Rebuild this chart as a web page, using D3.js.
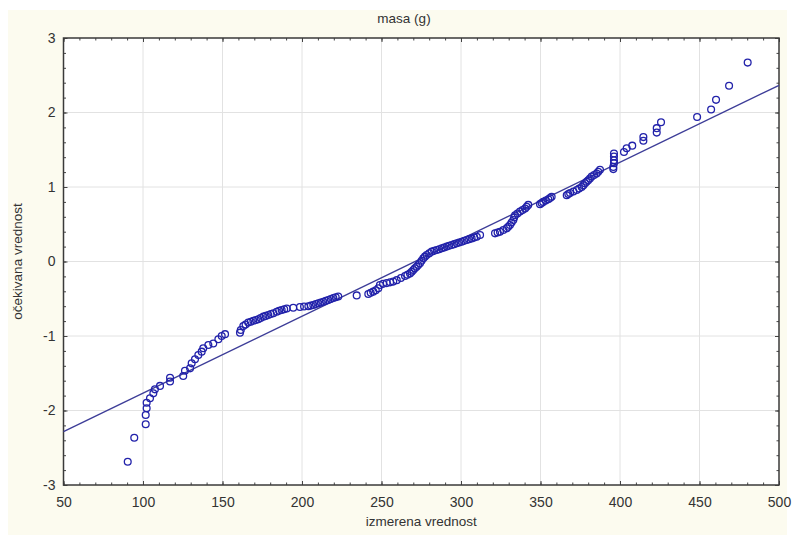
<!DOCTYPE html>
<html>
<head>
<meta charset="utf-8">
<script src="https://cdn.jsdelivr.net/npm/d3@7"></script>
<style>
  body { margin: 0; background: #fff; }
  text { font-family: "Liberation Sans", Arial, sans-serif; fill: #333; }
</style>
</head>
<body>
<svg width="793" height="535"></svg>
<script>
let masa = [90.4, 94.5, 101.7, 101.7, 102.3, 102.3, 104.4, 106.5, 107.5, 110.7,
    117, 117, 125.3, 126.4, 129.6, 130.6, 132.7, 134.8, 136.9, 137.9,
    141.1, 144.2, 147.4, 149.5, 151.6, 161, 161.5, 163.1, 164.5, 166.2,
    167.8, 169.4, 171, 172.5, 174, 175.7, 177.2, 178.8, 180.4, 182,
    184.1, 185.6, 187.2, 188.8, 190.4, 194.5, 198.7, 201.3, 204, 205.6,
    207.1, 208.7, 210.3, 211.8, 213.4, 215, 216.5, 218.1, 219.7, 221.2,
    222.8, 234.4, 241.7, 243.2, 244.8, 246.4, 248, 249, 251, 253.3,
    255.4, 257.4, 259.6, 262.2, 264.8, 266.3, 267.9, 269, 270, 271,
    272.1, 273.1, 274.2, 275.2, 276.3, 277.3, 278.4, 280, 281.6, 283.1,
    284.7, 286.3, 287.9, 289.4, 291, 292.5, 294.1, 295.7, 297.3, 298.8,
    300.4, 302, 303.6, 305.1, 306.7, 308.3, 309.9, 312, 321.4, 323,
    324.5, 326.6, 328.7, 329.7, 330.8, 331.8, 332.9, 333.4, 334, 335.5,
    337.1, 338.7, 340.3, 341.3, 342.3, 349.7, 350.7, 351.7, 353.3, 354.9,
    356, 357, 366.5, 367.5, 368.6, 370.7, 372.8, 374.3, 375.9, 377,
    378, 379, 380, 381.1, 382.2, 383.7, 385.3, 386.3, 387.4, 395.8,
    395.8, 396.2, 396.2, 396.2, 396.2, 402.5, 404.2, 407.7, 414.7, 414.7,
    423.1, 423.1, 425.8, 448.5, 457.3, 460.4, 468.6, 480.3];
let ocekivana = [-2.687, -2.365, -2.185, -2.06, -1.97, -1.895, -1.836, -1.77, -1.716, -1.67,
    -1.61, -1.56, -1.537, -1.466, -1.434, -1.367, -1.313, -1.255, -1.21, -1.165,
    -1.12, -1.1, -1.044, -1.0, -0.975, -0.955, -0.92, -0.866, -0.845, -0.82,
    -0.808, -0.795, -0.785, -0.776, -0.758, -0.74, -0.73, -0.718, -0.705, -0.695,
    -0.674, -0.662, -0.65, -0.64, -0.63, -0.62, -0.61, -0.605, -0.6, -0.592,
    -0.584, -0.572, -0.56, -0.55, -0.54, -0.528, -0.517, -0.503, -0.49, -0.48,
    -0.47, -0.455, -0.436, -0.42, -0.405, -0.385, -0.36, -0.315, -0.3, -0.29,
    -0.28, -0.27, -0.25, -0.222, -0.195, -0.178, -0.16, -0.137, -0.114, -0.092,
    -0.07, -0.047, -0.024, 0.01, 0.043, 0.065, 0.087, 0.11, 0.132, 0.143,
    0.154, 0.165, 0.177, 0.188, 0.2, 0.211, 0.222, 0.233, 0.244, 0.255,
    0.266, 0.277, 0.289, 0.3, 0.31, 0.321, 0.333, 0.356, 0.378, 0.389,
    0.4, 0.422, 0.445, 0.467, 0.49, 0.523, 0.557, 0.59, 0.62, 0.645,
    0.67, 0.69, 0.71, 0.735, 0.76, 0.77, 0.785, 0.8, 0.818, 0.835,
    0.852, 0.87, 0.89, 0.905, 0.92, 0.94, 0.96, 0.98, 1.0, 1.025,
    1.05, 1.07, 1.09, 1.115, 1.14, 1.16, 1.18, 1.205, 1.23, 1.24,
    1.27, 1.32, 1.36, 1.41, 1.45, 1.47, 1.52, 1.555, 1.62, 1.67,
    1.73, 1.79, 1.87, 1.94, 2.04, 2.17, 2.36, 2.67];
// reference line end points
let lineX = [50, 500];
let lineY = [-2.285, 2.365];
let xTicks = [50, 100, 150, 200, 250, 300, 350, 400, 450, 500];
let yTicks = [-3, -2, -1, 0, 1, 2, 3];

let svg = d3.select('svg');
let margin = {top: 38, right: 14, bottom: 50, left: 63.5};
let width = +svg.attr('width');
let height = +svg.attr('height');

// cream page
svg.append('rect')
    .attr('x', 8).attr('y', 10)
    .attr('width', width - 14).attr('height', height - 10)
    .attr('fill', '#fcfbef');

let xScale = d3.scaleLinear().domain([50, 500]).range([margin.left, width - margin.right]);
let yScale = d3.scaleLinear().domain([-3, 3]).range([height - margin.bottom, margin.top]);
let x0 = xScale.range()[0], x1 = xScale.range()[1];
let y0 = yScale.range()[1], y1 = yScale.range()[0];

svg.append('rect')
    .attr('x', x0).attr('y', y0)
    .attr('width', x1 - x0).attr('height', y1 - y0)
    .attr('fill', '#fff');

// grid
svg.append('g').selectAll('line').data(xTicks.slice(1, -1))
    .enter().append('line')
    .attr('x1', d => xScale(d)).attr('x2', d => xScale(d))
    .attr('y1', y0).attr('y2', y1)
    .attr('stroke', '#e2e2e2');
svg.append('g').selectAll('line').data(yTicks.slice(1, -1))
    .enter().append('line')
    .attr('x1', x0).attr('x2', x1)
    .attr('y1', d => yScale(d)).attr('y2', d => yScale(d))
    .attr('stroke', '#e2e2e2');

// axes, ticks pointing inside
let xMinor = d3.range(50, 501, 10);
let yMinor = d3.range(-3, 3.01, 0.2);
let styleAxis = g => {
    g.select('.domain').remove();
    g.selectAll('line').attr('stroke', '#444');
    g.selectAll('text').attr('font-size', 14).attr('fill', '#333');
};

svg.append('g').attr('transform', `translate(0,${y1})`)
    .call(d3.axisBottom(xScale).tickValues(xMinor).tickSize(-2.5).tickFormat(''))
    .call(styleAxis);
svg.append('g').attr('transform', `translate(0,${y1})`)
    .call(d3.axisBottom(xScale).tickValues(xTicks).tickSize(-4).tickPadding(12).tickFormat(d => d))
    .call(styleAxis);
svg.append('g').attr('transform', `translate(0,${y0})`)
    .call(d3.axisTop(xScale).tickValues(xMinor).tickSize(-2.5).tickFormat(''))
    .call(styleAxis);
svg.append('g').attr('transform', `translate(0,${y0})`)
    .call(d3.axisTop(xScale).tickValues(xTicks).tickSize(-4).tickFormat(''))
    .call(styleAxis);

svg.append('g').attr('transform', `translate(${x0},0)`)
    .call(d3.axisLeft(yScale).tickValues(yMinor).tickSize(-2.5).tickFormat(''))
    .call(styleAxis);
svg.append('g').attr('transform', `translate(${x0},0)`)
    .call(d3.axisLeft(yScale).tickValues(yTicks).tickSize(-4).tickPadding(8).tickFormat(d => d))
    .call(styleAxis);
svg.append('g').attr('transform', `translate(${x1},0)`)
    .call(d3.axisRight(yScale).tickValues(yMinor).tickSize(-2.5).tickFormat(''))
    .call(styleAxis);
svg.append('g').attr('transform', `translate(${x1},0)`)
    .call(d3.axisRight(yScale).tickValues(yTicks).tickSize(-4).tickFormat(''))
    .call(styleAxis);

// frame
svg.append('rect')
    .attr('x', x0).attr('y', y0)
    .attr('width', x1 - x0).attr('height', y1 - y0)
    .attr('fill', 'none')
    .attr('stroke', '#3a3a3a')
    .attr('stroke-width', 1.5);

// reference line
let plot = svg.append('g');
plot.append('line')
    .attr('x1', xScale(lineX[0])).attr('y1', yScale(lineY[0]))
    .attr('x2', xScale(lineX[1])).attr('y2', yScale(lineY[1]))
    .attr('stroke', '#3d3d98')
    .attr('stroke-width', 1.4);

// points
plot.selectAll('circle').data(masa)
    .enter().append('circle')
    .attr('cx', d => xScale(d))
    .attr('cy', (d, i) => yScale(ocekivana[i]))
    .attr('r', 3.4)
    .attr('fill', 'none')
    .attr('stroke', '#2222aa')
    .attr('stroke-width', 1.3);

// titles
svg.append('text')
    .attr('x', 404).attr('y', 23)
    .attr('text-anchor', 'middle')
    .attr('font-size', 13.5)
    .text('masa (g)');

svg.append('text')
    .attr('x', (x0 + x1) / 2).attr('y', 526)
    .attr('text-anchor', 'middle')
    .attr('font-size', 13.5)
    .text('izmerena vrednost');

svg.append('text')
    .attr('transform', `translate(22,${(y0 + y1) / 2}) rotate(-90)`)
    .attr('text-anchor', 'middle')
    .attr('font-size', 13.5)
    .text('očekivana vrednost');
</script>
</body>
</html>
